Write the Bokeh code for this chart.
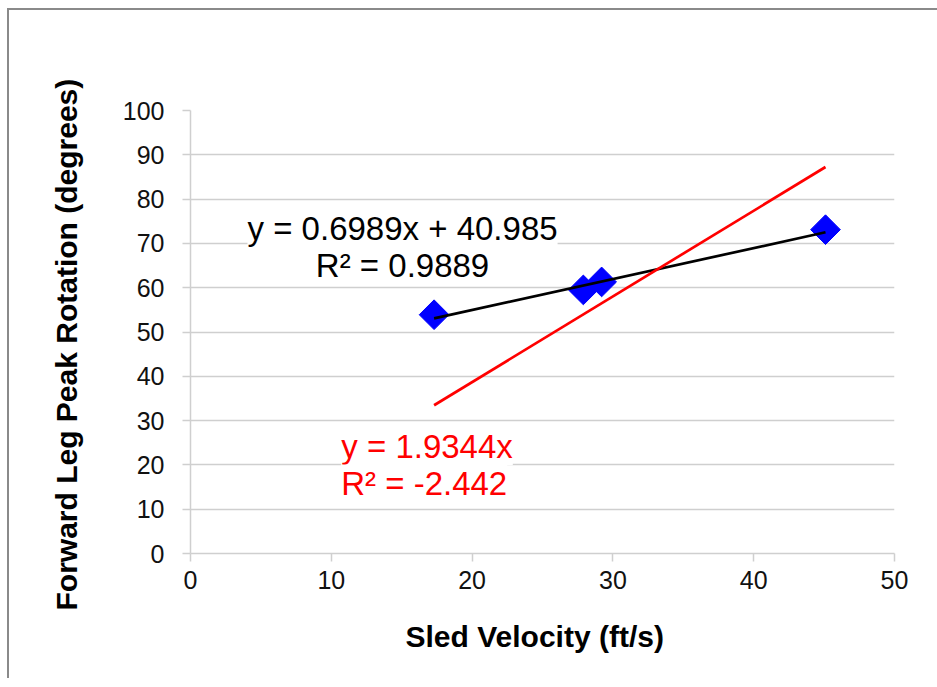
import math
from bokeh.plotting import figure
from bokeh.models import Range1d, FixedTicker, Label, Title, ColumnDataSource
from bokeh.embed import file_html
from bokeh.resources import INLINE

# ---- data ----
sled_velocity = [17.3, 27.9, 29.2, 45.1]
peak_rotation = [53.9, 59.5, 61.3, 73.1]

fit_slope = 0.6989
fit_intercept = 40.985
fit_r2 = 0.9889

origin_slope = 1.9344
origin_intercept = 0.0
origin_r2 = -2.442

x_ticks = [0, 10, 20, 30, 40, 50]
y_ticks = [0, 10, 20, 30, 40, 50, 60, 70, 80, 90, 100]

x_title = "Sled Velocity (ft/s)"
y_title = "Forward Leg Peak Rotation (degrees)"

FONT = "Liberation Sans"
GRID = "#cfcfcf"

OFF_X, OFF_Y = 9, 10  # page offset of the chart-area border

p = figure(width=937 - OFF_X, height=687 - OFF_Y, output_backend="svg", toolbar_location=None,
           x_range=Range1d(0, 50), y_range=Range1d(0, 100),
           min_border_left=190 - OFF_X, min_border_right=43, min_border_top=110 - OFF_Y,
           min_border_bottom=134 - OFF_Y,
           frame_width=704, frame_height=443)
p.outline_line_color = None
p.background_fill_color = "white"
p.border_fill_color = "white"
p.styles = {"margin-left": "7px", "margin-top": "8px",
            "border-left": "2px solid #8a8a8a", "border-top": "2px solid #8a8a8a"}

p.xgrid.visible = False
p.ygrid.grid_line_color = GRID
p.ygrid.grid_line_width = 1.5
p.ygrid.ticker = FixedTicker(ticks=y_ticks)

for ax, ticks in ((p.xaxis, x_ticks), (p.yaxis, y_ticks)):
    ax.ticker = FixedTicker(ticks=ticks)
    ax.axis_line_color = GRID
    ax.axis_line_width = 1.5
    ax.major_tick_line_color = GRID
    ax.major_tick_line_width = 1.5
    ax.major_tick_out = 8
    ax.major_tick_in = 0
    ax.minor_tick_line_color = None
    ax.major_label_text_font = FONT
    ax.major_label_text_font_size = "25px"
    ax.major_label_text_color = "#111111"
p.yaxis.major_label_standoff = 18
p.xaxis.major_label_standoff = 9

# data points
src = ColumnDataSource(dict(x=sled_velocity, y=peak_rotation))
p.scatter("x", "y", source=src, marker="square", size=21, angle=math.pi / 4,
          fill_color="#0000ff", line_color="#0000ff")

# trend lines over the data range
xr = [min(sled_velocity), max(sled_velocity)]
p.line(xr, [fit_slope * v + fit_intercept for v in xr], line_color="black", line_width=2.7)
p.line(xr, [origin_slope * v + origin_intercept for v in xr], line_color="#ff0000", line_width=2.7)

def lab(x, y, text, color):
    l = Label(x=x, y=y, text=text, text_font=FONT, text_font_size="33px",
              text_color=color, text_align="center", text_baseline="middle",
              background_fill_color="white", background_fill_alpha=1.0)
    p.add_layout(l)

lab(15.06, 73.4, "y = %.4fx + %.3f" % (fit_slope, fit_intercept), "black")
lab(15.06, 64.9, "R² = %.4f" % fit_r2, "black")
lab(16.8, 24.1, "y = %.4fx" % origin_slope, "#ff0000")
lab(16.6, 15.9, "R² = %.3f" % origin_r2, "#ff0000")

# axis titles
p.add_layout(Title(text=x_title, text_font=FONT, text_font_size="30px", text_font_style="bold",
                   text_color="black", align="left", offset=215, standoff=52), "below")
p.add_layout(Title(text=y_title, text_font=FONT, text_font_size="30px", text_font_style="bold",
                   text_color="black", align="left", offset=-57, standoff=74), "left")

open("out.html", "w").write(file_html(p, INLINE))
